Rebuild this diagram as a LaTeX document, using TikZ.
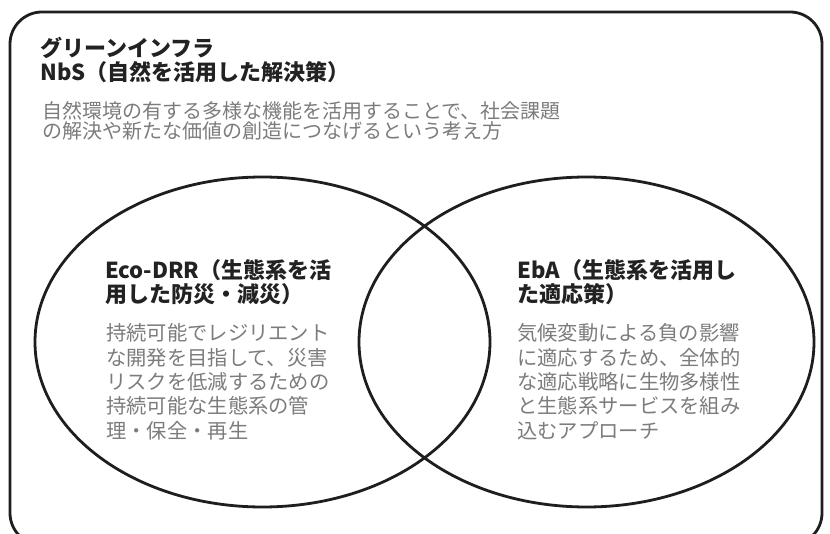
\documentclass[tikz,border=0pt]{standalone}
\usepackage{fontspec}
\newfontfamily\cjk{Noto Sans CJK JP}
\usetikzlibrary{shapes.geometric}
\definecolor{inkc}{HTML}{1E1E1E}
\definecolor{headc}{HTML}{222222}
\definecolor{bodyc}{HTML}{7C7C7C}
\tikzset{
  frameline/.style={draw=inkc, line width=2.8pt},
  venn/.style={ellipse, draw=inkc, line width=2.8pt, inner sep=0pt, minimum width=455pt, minimum height=330pt},
  headtxt/.style={anchor=north west, inner sep=0pt, align=left, text=headc,
    font=\cjk\bfseries\fontsize{22}{24}\selectfont},
  desctxt/.style={anchor=north west, inner sep=0pt, align=left, text=bodyc,
    font=\cjk\fontsize{20}{20.5}\selectfont},
  bodytxt/.style={anchor=north west, inner sep=0pt, align=left, text=bodyc,
    font=\cjk\fontsize{20.3}{24.4}\selectfont},
}
\begin{document}
\lineskiplimit=-30pt
\begin{tikzpicture}[x=1pt,y=-1pt]
\useasboundingbox (0,0) rectangle (830,534);
\fill[white] (0,0) rectangle (830,534);
\node[frameline, rounded corners=32pt, inner sep=0pt, minimum width=812pt, minimum height=533pt] (frame) at (416,278.5) {};
\node[venn] (ecoell) at (262.5,342) {};
\node[venn] (ebaell) at (586.5,342) {};
\node[headtxt] (title) at (40,37) {グリーンインフラ\\NbS（自然を活用した解決策）};
\node[desctxt] (desc) at (42,101) {自然環境の有する多様な機能を活用することで、社会課題\\の解決や新たな価値の創造につなげるという考え方};
\node[headtxt] (ecohead) at (105,259) {Eco-DRR（生態系を活\\用した防災・減災）};
\node[bodytxt] (ecobody) at (106,323.5) {持続可能でレジリエント\\な開発を目指して、災害\\リスクを低減するための\\持続可能な生態系の管\\理・保全・再生};
\node[headtxt] (ebahead) at (517,259) {EbA（生態系を活用し\\た適応策）};
\node[bodytxt] (ebabody) at (517,323.5) {気候変動による負の影響\\に適応するため、全体的\\な適応戦略に生物多様性\\と生態系サービスを組み\\込むアプローチ};
\end{tikzpicture}
\end{document}
